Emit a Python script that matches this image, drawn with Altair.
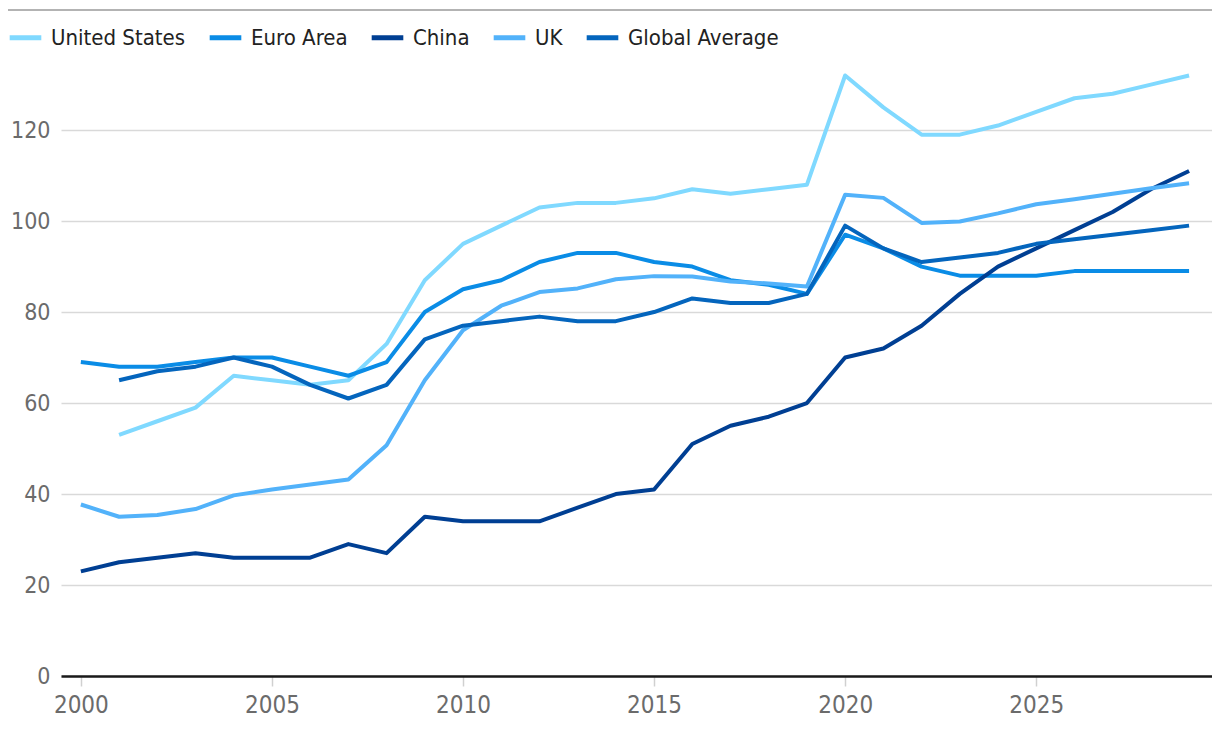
import altair as alt
import pandas as pd

years = list(range(2000, 2030))
series_names = ["United States", "Euro Area", "China", "UK", "Global Average"]
series_colors = ["#80D9FF", "#0A8CE6", "#003F93", "#52B2FA", "#0465BD"]

us = [None, 53, 56, 59, 66, 65, 64, 65, 73, 87, 95, 99, 103, 104, 104, 105, 107, 106, 107, 108,
      132, 125, 119, 119, 121, 124, 127, 128, 130, 132]
euro = [69, 68, 68, 69, 70, 70, 68, 66, 69, 80, 85, 87, 91, 93, 93, 91, 90, 87, 86, 84,
        97, 94, 90, 88, 88, 88, 89, 89, 89, 89]
china = [23, 25, 26, 27, 26, 26, 26, 29, 27, 35, 34, 34, 34, 37, 40, 41, 51, 55, 57, 60,
         70, 72, 77, 84, 90, 94, 98, 102, 107, 111]
uk = [37.7, 35, 35.4, 36.7, 39.7, 41, 42.1, 43.2, 50.7, 65, 76, 81.4, 84.4, 85.2, 87.2, 87.9, 87.8, 86.7, 86.3, 85.6,
      105.8, 105.1, 99.6, 99.9, 101.7, 103.7, 104.8, 106, 107.2, 108.3]
glob = [None, 65, 67, 68, 70, 68, 64, 61, 64, 74, 77, 78, 79, 78, 78, 80, 83, 82, 82, 84,
        99, 94, 91, 92, 93, 95, 96, 97, 98, 99]

y_ticks = [0, 20, 40, 60, 80, 100, 120]
x_ticks = [2000, 2005, 2010, 2015, 2020, 2025]

rows = []
for name, vals in zip(series_names, [us, euro, china, uk, glob]):
    for yr, v in zip(years, vals):
        if v is not None:
            rows.append({"year": yr, "value": v, "series": name})
df = pd.DataFrame(rows)

FONT = "DejaVu Sans Condensed, Roboto, sans-serif"
W, H = 1151, 666
YMAX = 146.4

x_enc = alt.X("year:Q", scale=alt.Scale(domain=[1999.48, 2029.6], nice=False, zero=False),
              axis=alt.Axis(values=x_ticks, format="d", title=None, grid=False,
                            domain=True, domainColor="#1a1a1a", domainWidth=2.5,
                            ticks=True, tickColor="#d0d0d0", tickSize=10, tickWidth=1.5,
                            labelFont=FONT, labelFontSize=24, labelColor="#6b6b6b",
                            labelPadding=7))
y_enc = alt.Y("value:Q", scale=alt.Scale(domain=[0, YMAX], nice=False),
              axis=alt.Axis(values=y_ticks, title=None, grid=True, gridColor="#d9d9d9",
                            gridWidth=1.5, domain=False, ticks=False,
                            labelFont=FONT, labelFontSize=23, labelColor="#6b6b6b",
                            labelPadding=11))

lines = alt.Chart(df).mark_line(strokeWidth=4, strokeJoin="round").encode(
    x=x_enc,
    y=y_enc,
    color=alt.Color("series:N",
                    scale=alt.Scale(domain=series_names, range=series_colors),
                    sort=series_names,
                    legend=alt.Legend(title=None, orient="none", direction="horizontal",
                                      legendX=-54, legendY=9,
                                      symbolType="stroke", symbolSize=1000,
                                      symbolStrokeWidth=5,
                                      labelFont=FONT, labelFontSize=22, labelColor="#222222",
                                      labelOffset=7, columnPadding=13)),
    order=alt.Order("series:N"),
)

top_rule = alt.Chart(pd.DataFrame({"v": [YMAX]})).mark_rule(color="#b3b3b3", strokeWidth=2).encode(
    y=alt.Y("v:Q"),
    x=alt.value(-55),
    x2=alt.value(W),
)

chart = alt.layer(top_rule, lines).properties(
    width=W, height=H,
    autosize=alt.AutoSizeParams(type="none"),
    padding={"left": 53, "top": 2, "right": 0, "bottom": 46},
).configure(background="white").configure_view(stroke=None)

chart.save("out.html", embed_options={"renderer": "svg", "actions": False})
